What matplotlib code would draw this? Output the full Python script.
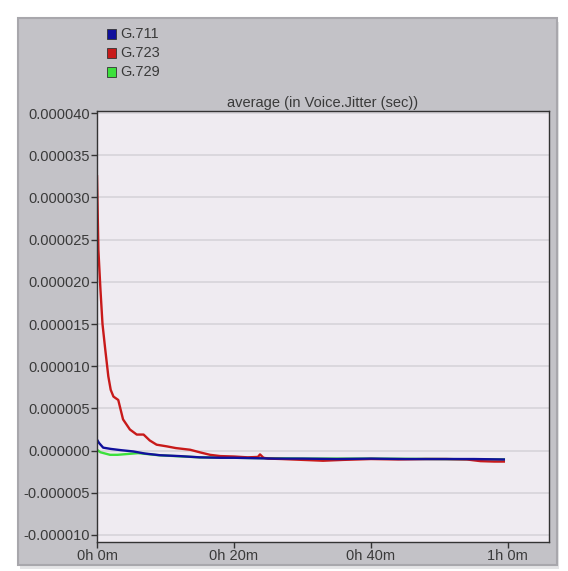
import numpy as np
import matplotlib.pyplot as plt
from matplotlib.patches import Rectangle

# time in minutes, jitter in microseconds (scaled to seconds when plotted)
red_t = [0, 0.2, 0.5, 0.8, 1.2, 1.65, 2.0, 2.4, 3.1, 3.8, 4.8, 5.8, 6.8, 7.7, 8.7,
         10.2, 11.5, 13.6, 15, 16.5, 18, 20, 22, 23.5, 23.8, 24.3, 25, 27, 30, 33,
         36, 40, 44, 48, 51, 54, 56, 58, 59.4]
red_v = [32.5, 23.8, 19.1, 15.0, 12.0, 8.8, 7.2, 6.4, 6.0, 3.7, 2.5, 1.9, 1.9, 1.2, 0.7,
         0.5, 0.3, 0.1, -0.2, -0.5, -0.65, -0.7, -0.8, -0.75, -0.45, -0.85, -0.95, -1.0, -1.1, -1.2,
         -1.1, -1.0, -1.05, -1.0, -1.0, -1.05, -1.25, -1.3, -1.3]

blue_t = [0, 0.3, 0.9, 2, 3.5, 5.3, 7, 9.2, 12, 15, 18, 20, 23, 26, 30, 35, 40, 45, 50, 55, 59.4]
blue_v = [1.3, 0.9, 0.35, 0.2, 0.05, -0.1, -0.35, -0.55, -0.65, -0.8, -0.85, -0.85, -0.9,
          -0.95, -0.95, -1.0, -0.95, -1.0, -1.0, -1.0, -1.05]

green_t = [0, 0.5, 1.9, 3, 4.5, 6, 9, 15, 20, 30, 40, 50, 59.4]
green_v = [0.1, -0.2, -0.5, -0.5, -0.4, -0.3, -0.55, -0.8, -0.85, -0.95, -0.95, -1.0, -1.05]

labels = ['G.711', 'G.723', 'G.729']
colors = ['#10109c', '#c81a1a', '#3ce03c']
y_ticks = [-0.00001, -0.000005, 0, 0.000005, 0.00001, 0.000015, 0.00002,
           0.000025, 0.00003, 0.000035, 0.00004]
x_ticks = [0, 20, 40, 60]
x_labels = ['0h 0m', '0h 20m', '0h 40m', '1h 0m']

font = 'Liberation Sans'
txt = '#3a3a3a'

fig = plt.figure(figsize=(5.68, 5.71), dpi=100)
fig.patch.set_facecolor('white')

# grey panel with a soft shadow
fig.patches.append(Rectangle((0.036, 0.003), 0.949, 0.958, transform=fig.transFigure,
                             facecolor='#e4e4e6', edgecolor='none', zorder=-2))
fig.patches.append(Rectangle((0.032, 0.0105), 0.949, 0.958, transform=fig.transFigure,
                             facecolor='#c3c2c7', edgecolor='#a8a7ac', linewidth=1.5, zorder=-1))

ax = fig.add_axes([0.1708, 0.0508, 0.7958, 0.7548])
ax.set_zorder(2)
ax.set_facecolor('#efebf1')

ax.plot(green_t, np.array(green_v) * 1e-6, color=colors[2], lw=1.7)
ax.plot(red_t, np.array(red_v) * 1e-6, color=colors[1], lw=1.7)
ax.plot(blue_t, np.array(blue_v) * 1e-6, color=colors[0], lw=1.7)

ax.set_xlim(0, 66)
ax.set_ylim(-1.083e-5, 4.024e-5)
ax.set_yticks(y_ticks)
ax.set_yticklabels(['%.6f' % v for v in y_ticks], fontfamily=font, fontsize=10.5, color=txt)
ax.set_xticks(x_ticks)
ax.set_xticklabels(x_labels, fontfamily=font, fontsize=10.5, color=txt)
ax.tick_params(axis='both', direction='out', length=4, width=1, color='#333333', pad=1)
ax.grid(axis='y', color='#d6d4d9', lw=1.2)
ax.set_axisbelow(True)
for side in ['top', 'right', 'left', 'bottom']:
    ax.spines[side].set_color('#333333')
    ax.spines[side].set_linewidth(1)

ax.set_title('average (in Voice.Jitter (sec))', fontfamily=font, fontsize=10.5,
             color=txt, pad=3)

# legend squares at top left of the panel
for i, (lab, col) in enumerate(zip(labels, colors)):
    y = 1 - (34 + 19 * i) / 571
    fig.patches.append(Rectangle((107 / 568, y - 4.5 / 571), 9 / 568, 9 / 571,
                                 transform=fig.transFigure, facecolor=col,
                                 edgecolor='#333333', linewidth=0.6, zorder=3))
    fig.text(120 / 568, y, lab, fontfamily=font, fontsize=10.5, color=txt,
             va='center', ha='left')

fig.savefig('out.png', dpi=100)
